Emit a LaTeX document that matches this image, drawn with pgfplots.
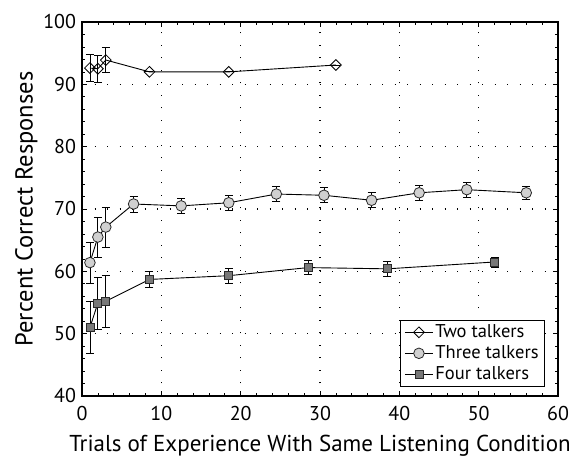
\documentclass[border=0pt]{standalone}
\usepackage{fontspec}
\setmainfont{PT Sans}
\usepackage{pgfplots}
\pgfplotsset{compat=1.18}

\pgfplotstableread{
x    y     e
1    92.6  2.2
2    92.5  2.2
3    93.9  2.0
8.5  92.0  0
18.5 92.0  0
32   93.1  0
}\twotalk

\pgfplotstableread{
x    y     e
1    61.4  3.3
2    65.5  3.2
3    67.1  3.2
6.5  70.8  1.3
12.5 70.5  1.2
18.5 71.0  1.2
24.5 72.4  1.2
30.5 72.2  1.2
36.5 71.4  1.2
42.5 72.6  1.2
48.5 73.1  1.2
56   72.6  1.0
}\threetalk

\pgfplotstableread{
x    y     e
1    51.0  4.2
2    54.9  4.2
3    55.2  4.2
8.5  58.7  1.3
18.5 59.3  1.2
28.5 60.6  1.1
38.5 60.4  1.2
52   61.5  0.8
}\fourtalk

\definecolor{lightfill}{RGB}{208,208,208}
\definecolor{darkfill}{RGB}{120,120,120}
\definecolor{edge}{RGB}{40,40,40}

\begin{document}
\begin{tikzpicture}
\begin{axis}[
  scale only axis,
  width=476bp, height=374bp,
  xmin=0, xmax=60, ymin=40, ymax=100,
  xtick={0,10,...,60}, ytick={40,50,...,100},
  minor tick num=4,
  tick align=inside,
  major tick length=5bp, minor tick length=3bp,
  axis line style={line width=1.1bp},
  every tick/.style={black, line width=0.7bp},
  grid=major,
  major grid style={black, line width=1.1bp, dash pattern=on 1.2bp off 11.3bp},
  /pgf/number format/assume math mode=true,
  ticklabel style={font=\fontsize{20bp}{23bp}\selectfont},
  yticklabel style={xshift=-2.5bp},
  xticklabel style={yshift=-7bp},
  legend cell align=left,
  legend image code/.code={
    \draw[mark repeat=2, mark phase=2] plot coordinates {(0bp,0bp)(14bp,0bp)(28bp,0bp)};
  },
  legend style={
    at={(axis description cs:0.9727,0.024)}, anchor=south east,
    draw=black, line width=0.9bp,
    font=\fontsize{18.5bp}{21bp}\selectfont,
    inner xsep=4bp, inner ysep=3bp,
    row sep=2.5bp,
    nodes={inner sep=2bp, text height=12bp, text depth=2.5bp},
  },
  every axis plot/.append style={line width=0.9bp, black},
  error bars/error bar style={line width=0.8bp, black},
  error bars/error mark options={rotate=90, mark size=4bp, line width=0.8bp, black},
]
\addplot[mark=square, mark size=3.8bp,
  mark options={rotate=45, fill=white, draw=black, line width=0.8bp},
  error bars/.cd, y dir=both, y explicit]
  table[x=x, y=y, y error=e] {\twotalk};
\addlegendentry{Two talkers}

\addplot[mark=*, mark size=5.3bp,
  mark options={fill=lightfill, draw=edge, line width=0.8bp},
  error bars/.cd, y dir=both, y explicit]
  table[x=x, y=y, y error=e] {\threetalk};
\addlegendentry{Three talkers}

\addplot[mark=square*, mark size=4bp,
  mark options={fill=darkfill, draw=edge, line width=0.8bp},
  error bars/.cd, y dir=both, y explicit]
  table[x=x, y=y, y error=e] {\fourtalk};
\addlegendentry{Four talkers}

\coordinate (bl) at (rel axis cs:0,0);
\coordinate (tr) at (rel axis cs:1,1);
\end{axis}

\path (bl) -- (tr) coordinate[pos=0.5] (mid);
\node[rotate=90, anchor=north, inner sep=0pt, font=\fontsize{24.5bp}{27bp}\selectfont]
  at ([xshift=-67bp]bl |- mid) {Percent Correct Responses};
\node[anchor=base, inner sep=0pt, font=\fontsize{23bp}{26bp}\selectfont]
  at ([yshift=-56bp]mid |- bl) {Trials of Experience With Same Listening Condition};

\pgfresetboundingbox
\path[use as bounding box] ([xshift=-82bp, yshift=-61bp]bl) rectangle ([xshift=24bp, yshift=22bp]tr);
\end{tikzpicture}
\end{document}
